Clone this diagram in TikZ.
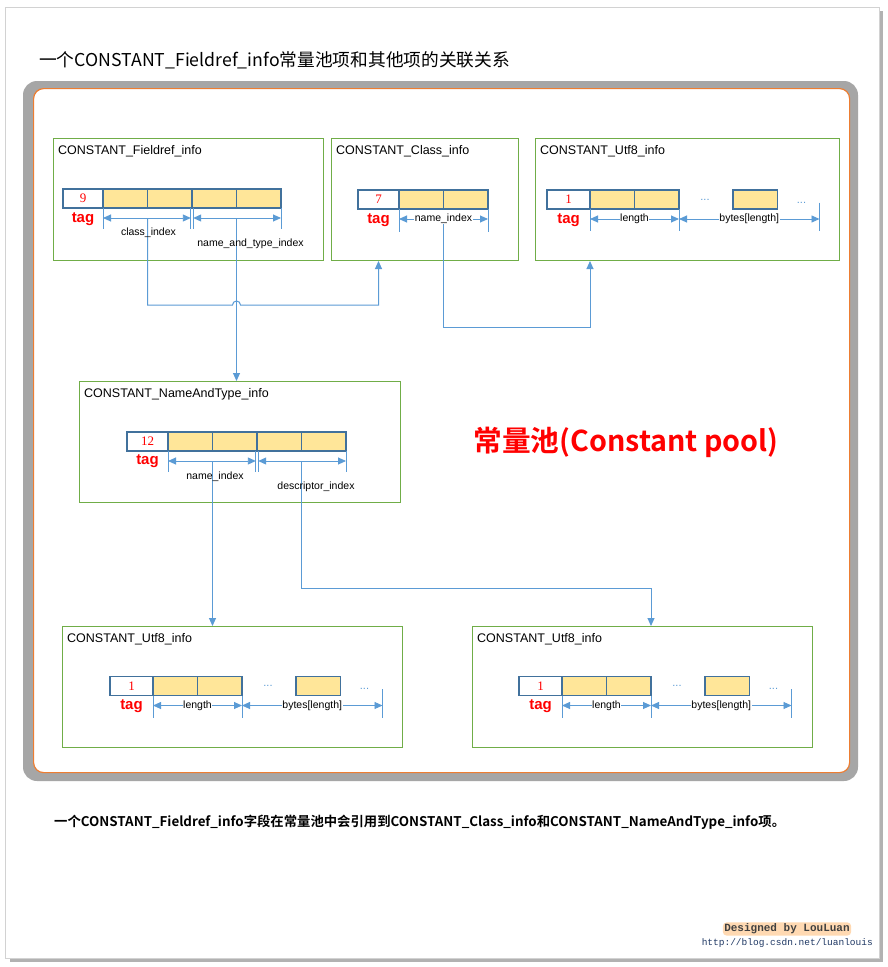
\documentclass[tikz,border=0pt]{standalone}
\usepackage{fontspec}
\setmainfont{Liberation Sans}
\newfontfamily\cjk{Noto Sans CJK SC}[BoldFont={Noto Sans CJK SC Bold}]
\newfontfamily\mono{Liberation Mono}
\newfontfamily\numfont{Liberation Serif}
\usetikzlibrary{arrows.meta,positioning,calc}
\definecolor{boxgreen}{HTML}{70AD47}
\definecolor{poolorange}{HTML}{ED7D31}
\definecolor{linkblue}{HTML}{5B9BD5}
\definecolor{cellblue}{HTML}{41719C}
\definecolor{cellyellow}{HTML}{FFE699}
\definecolor{urlblue}{HTML}{1F3864}

\begin{document}
\begin{tikzpicture}[x=1pt,y=-1pt,>={Triangle[length=8pt,width=7pt]},
 entry/.style={draw=boxgreen,line width=1pt,anchor=north west,inner sep=0pt},
 entryname/.style={anchor=north west,font=\fontsize{12.5}{14}\selectfont,inner sep=0pt},
 tagcell/.style={draw=cellblue,fill=white,line width=1.3pt,outer sep=0pt,minimum width=41pt,minimum height=19pt,inner sep=0pt,font=\numfont\fontsize{13}{14}\selectfont,text=red},
 cell/.style={draw=cellblue,fill=cellyellow,line width=1.3pt,outer sep=0pt,minimum width=44.5pt,minimum height=19pt,inner sep=0pt},
 tag/.style={text=red,font=\bfseries\fontsize{15}{16}\selectfont,inner sep=0pt},
 lab/.style={text=black,font=\fontsize{10.5}{12}\selectfont,inner sep=0.5pt},
 dim/.style={<->,linkblue,line width=0.9pt},
 tick/.style={linkblue,line width=0.9pt},
 conn/.style={->,linkblue,line width=1pt},
 dots/.style={text=linkblue,font=\fontsize{11}{12}\selectfont,inner sep=0pt}]
\useasboundingbox (0,0) rectangle (888,967);
% page
\fill[gray!60] (10,11) rectangle (883,962);
\draw[gray!35,fill=white] (5,7) rectangle (879,958);
\node[anchor=west,font=\cjk\fontsize{17.7}{19}\selectfont,inner sep=0pt] (title) at (39,60) {一个CONSTANT\_Fieldref\_info常量池项和其他项的关联关系};
% constant pool frame
\fill[gray!70,rounded corners=14pt] (23,81) rectangle (858,781);
\node[draw=poolorange,line width=1.2pt,fill=white,rounded corners=10pt,minimum width=816pt,minimum height=684pt,anchor=north west,inner sep=0pt] (pool) at (33,88) {};
\node[font=\cjk\bfseries\fontsize{28.7}{30}\selectfont,text=red] (pooltext) at (626,442) {常量池(Constant pool)};
% entries
\node[entry,minimum width=270pt,minimum height=122pt] (fref) at (53,138) {};
\node[entry,minimum width=187pt,minimum height=122pt] (cls) at (331,138) {};
\node[entry,minimum width=304pt,minimum height=122pt] (utf) at (535,138) {};
\node[entry,minimum width=321pt,minimum height=121pt] (nat) at (79,381) {};
\node[entry,minimum width=340pt,minimum height=121pt] (lutf) at (62,626) {};
\node[entry,minimum width=340pt,minimum height=121pt] (rutf) at (472,626) {};
\node[entryname] at ([shift={(5,7)}]fref.north west) {CONSTANT\_Fieldref\_info};
\node[entryname] at ([shift={(5,7)}]cls.north west) {CONSTANT\_Class\_info};
\node[entryname] at ([shift={(5,7)}]utf.north west) {CONSTANT\_Utf8\_info};
\node[entryname] at ([shift={(5,7)}]nat.north west) {CONSTANT\_NameAndType\_info};
\node[entryname] at ([shift={(5,7)}]lutf.north west) {CONSTANT\_Utf8\_info};
\node[entryname] at ([shift={(5,7)}]rutf.north west) {CONSTANT\_Utf8\_info};
% Fieldref fields
\node[tagcell,minimum width=40pt] (f0) at (83,198.5) {9};
\node[cell,right=0pt of f0] (f1) {};
\node[cell,right=0pt of f1] (f2) {};
\node[cell,right=0pt of f2] (f3) {};
\node[cell,right=0pt of f3] (f4) {};
\node[tag] at ($(f0.south)+(0,11)$) {tag};
\draw[tick] (f0.south east) -- ++(0,21);
\draw[tick] ([xshift=-1.2pt]f2.south east) -- ++(0,21);
\draw[tick] ([xshift=1.2pt]f2.south east) -- ++(0,21);
\draw[tick] (f4.south east) -- ++(0,21);
\draw[dim] ($(f0.south east)+(0,10)$) -- ($(f2.south east)+(-1.2,10)$);
\draw[dim] ($(f2.south east)+(1.2,10)$) -- ($(f4.south east)+(0,10)$);
\coordinate (fa) at ($(f1.south east)+(0,10)$);
\coordinate (fb) at ($(f3.south east)+(0,10)$);
\coordinate (hop) at ($(fb)+(0,87)$);
% Class fields
\node[tagcell] (c0) at (378.5,199.5) {7};
\node[cell,right=0pt of c0] (c1) {};
\node[cell,right=0pt of c1] (c2) {};
\node[tag] at ($(c0.south)+(0,11)$) {tag};
\draw[tick] (c0.south east) -- ++(0,23);
\draw[tick] (c2.south east) -- ++(0,23);
\coordinate (cb) at ($(c1.south east)+(0,10)$);
% NameAndType fields
\node[tagcell] (n0) at (147.5,441.5) {12};
\node[cell,right=0pt of n0] (n1) {};
\node[cell,right=0pt of n1] (n2) {};
\node[cell,right=0pt of n2] (n3) {};
\node[cell,right=0pt of n3] (n4) {};
\node[tag] at ($(n0.south)+(0,10.5)$) {tag};
\draw[tick] (n0.south east) -- ++(0,21);
\draw[tick] ([xshift=-1.2pt]n2.south east) -- ++(0,21);
\draw[tick] ([xshift=1.2pt]n2.south east) -- ++(0,21);
\draw[tick] (n4.south east) -- ++(0,21);
\draw[dim] ($(n0.south east)+(0,10)$) -- ($(n2.south east)+(-1.2,10)$);
\draw[dim] ($(n2.south east)+(1.2,10)$) -- ($(n4.south east)+(0,10)$);
\coordinate (na) at ($(n1.south east)+(0,10)$);
\coordinate (nb) at ($(n3.south east)+(0,10)$);
% Utf8 fields
\foreach \b/\p in {u/{568.5,199.5},l/{131.5,686},r/{540.5,686}}{
 \node[tagcell,minimum width=43pt] (\b0) at (\p) {1};
 \node[cell,right=0pt of \b0] (\b1) {};
 \node[cell,right=0pt of \b1] (\b2) {};
 \node[cell,right=54pt of \b2] (\b3) {};
 \node[dots] at ($(\b2.east)+(26,0)$) {...};
 \node[dots] at ($(\b3.east)+(24,3)$) {...};
 \node[tag] at ($(\b0.south)+(0,11)$) {tag};
 \draw[tick] (\b0.south east) -- ++(0,22);
 \draw[tick] (\b2.south east) -- ++(0,22);
 \draw[tick] ($(\b3.east)+(42,3)$) -- ($(\b3.east)+(42,31.5)$);
 \draw[dim] ($(\b0.south east)+(0,10)$) -- node[lab,fill=white]{length} ($(\b2.south east)+(0,10)$);
 \draw[dim] ($(\b2.south east)+(0,10)$) -- node[lab,fill=white]{bytes[length]} ($(\b3.east)+(42,19.5)$);
}
% links
\draw[conn] (fa) |- ([xshift=-4pt]hop) arc (180:360:4) -| (c0 |- cls.south);
\draw[conn] (fb) -- (fb |- nat.north);
\draw[conn] (cb) -- ++(0,108) -| (u0.east |- utf.south);
\draw[conn] (na) -- (na |- lutf.north);
\draw[conn] (nb) -- ++(0,127) -| (r2.east |- rutf.north);
% labels on top of links
\node[lab] at ($(fa)+(1,15)$) {class\_index};
\node[lab] at ($(fb)+(14,26)$) {name\_and\_type\_index};
\draw[dim] ($(c0.south east)+(0,10)$) -- node[lab,fill=white]{name\_index} ($(c2.south east)+(0,10)$);
\node[lab] at ($(na)+(2.5,16)$) {name\_index};
\node[lab] at ($(nb)+(14.5,26)$) {descriptor\_index};
% caption and footer
\node[anchor=west,font=\cjk\bfseries\fontsize{13.35}{15}\selectfont,inner sep=0pt] (caption) at (54,822) {一个CONSTANT\_Fieldref\_info字段在常量池中会引用到CONSTANT\_Class\_info和CONSTANT\_NameAndType\_info项。};
\node[font=\mono\bfseries\fontsize{11}{12}\selectfont,text=black!75,fill=orange!30,rounded corners=4pt,inner sep=1.5pt] (design) at (787,929) {Designed by LouLuan};
\node[anchor=east,font=\mono\fontsize{9.5}{10}\selectfont,text=urlblue,inner sep=0pt] (url) at (873,943) {http://blog.csdn.net/luanlouis};
\end{tikzpicture}
\end{document}
